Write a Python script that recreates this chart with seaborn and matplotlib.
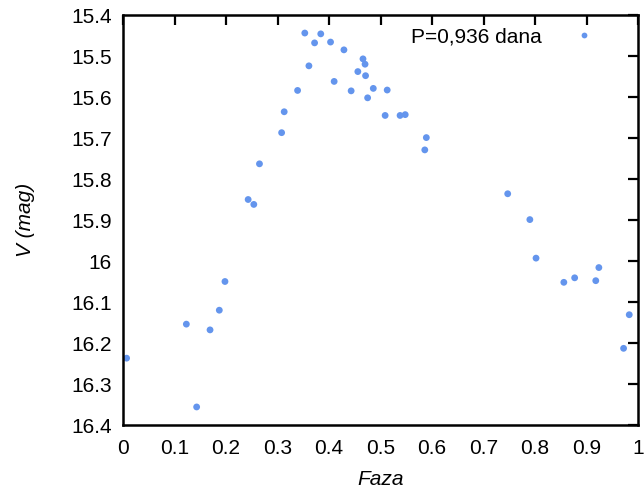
import matplotlib
matplotlib.use("Agg")
import matplotlib.pyplot as plt
import seaborn as sns
import pandas as pd
from matplotlib.ticker import FuncFormatter, MultipleLocator

phase = [0.007, 0.123, 0.143, 0.169, 0.187, 0.198, 0.243, 0.254, 0.265, 0.308,
         0.313, 0.339, 0.353, 0.361, 0.372, 0.384, 0.403, 0.410, 0.429, 0.443,
         0.456, 0.466, 0.470, 0.471, 0.475, 0.486, 0.513, 0.509, 0.538, 0.548,
         0.586, 0.589, 0.747, 0.790, 0.802, 0.856, 0.877, 0.918, 0.924, 0.972,
         0.983]
vmag = [16.237, 16.154, 16.356, 16.168, 16.120, 16.050, 15.850, 15.862, 15.763, 15.687,
        15.636, 15.584, 15.444, 15.524, 15.468, 15.446, 15.466, 15.562, 15.485, 15.585,
        15.538, 15.507, 15.520, 15.548, 15.602, 15.579, 15.583, 15.645, 15.645, 15.643,
        15.729, 15.699, 15.836, 15.899, 15.993, 16.052, 16.041, 16.048, 16.016, 16.213,
        16.131]
series_label = "P=0,936 dana"
x_label = "Faza"
y_label = "V (mag)"

df = pd.DataFrame({"Faza": phase, "V": vmag, "serija": series_label})

sns.set_style("white")
plt.rcParams["font.family"] = ["Liberation Sans", "DejaVu Sans"]
plt.rcParams["text.color"] = "black"
plt.rcParams["axes.labelcolor"] = "black"

FS = 15
fig = plt.figure(figsize=(6.44, 4.90), dpi=100)
ax = fig.add_axes([123 / 644, 1 - 425 / 490, (638 - 123) / 644, (425 - 15) / 490])

sns.scatterplot(data=df, x="Faza", y="V", hue="serija", palette=["#6495ED"],
                s=24, linewidth=0, ax=ax)

ax.set_xlim(0, 1)
ax.set_ylim(16.4, 15.4)
ax.xaxis.set_major_locator(MultipleLocator(0.1))
ax.yaxis.set_major_locator(MultipleLocator(0.1))
fmt = FuncFormatter(lambda v, p: ("%.1f" % v).rstrip("0").rstrip(".") if abs(v - round(v)) > 1e-9 else "%d" % round(v))
ax.xaxis.set_major_formatter(fmt)
ax.yaxis.set_major_formatter(fmt)

ax.tick_params(direction="in", length=7, width=1.6, top=True, right=True,
               labelsize=FS, colors="black")
ax.tick_params(axis="x", pad=10)
ax.tick_params(axis="y", pad=8)
for sp in ax.spines.values():
    sp.set_visible(True)
    sp.set_linewidth(1.8)
    sp.set_color("black")

ax.set_xlabel(x_label, fontsize=FS, style="italic", labelpad=9)
ax.set_ylabel(y_label, fontsize=FS, style="italic", labelpad=26)

leg = ax.legend(loc="upper right", bbox_to_anchor=(0.9153, 0.9704), frameon=False,
                markerfirst=False, fontsize=FS, handlelength=1.0, handletextpad=1.55,
                borderaxespad=0, borderpad=0, markerscale=0.85)

fig.savefig("out.png", dpi=100)
